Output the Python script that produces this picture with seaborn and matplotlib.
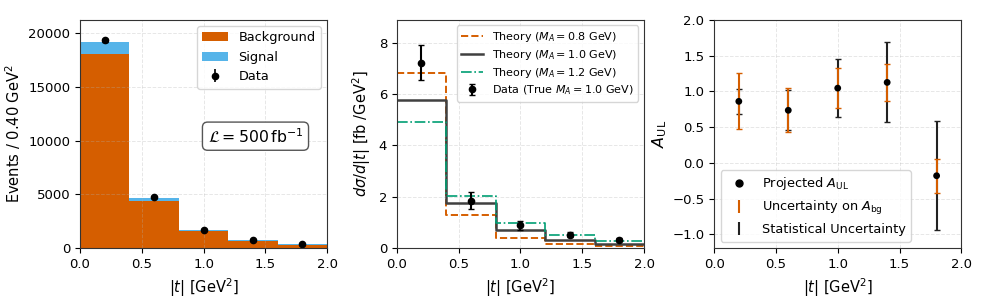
import numpy as np
import pandas as pd
import matplotlib
matplotlib.use("Agg")
import matplotlib.pyplot as plt
import seaborn as sns
from matplotlib.patches import Patch
from matplotlib.lines import Line2D

# ---------------- data ----------------
bin_edges = [0.0, 0.4, 0.8, 1.2, 1.6, 2.0]
bin_centers = [0.2, 0.6, 1.0, 1.4, 1.8]

background = [18050, 4370, 1560, 680, 310]
signal = [1110, 310, 140, 40, 25]
data_counts = [19350, 4710, 1700, 740, 340]

theory_08 = [6.82, 1.28, 0.40, 0.17, 0.07]
theory_10 = [5.78, 1.75, 0.69, 0.33, 0.15]
theory_12 = [4.91, 2.01, 0.97, 0.52, 0.28]
xsec_data = [7.23, 1.85, 0.89, 0.52, 0.33]
xsec_err = [0.69, 0.33, 0.18, 0.09, 0.06]

aul = [0.86, 0.735, 1.045, 1.125, -0.18]
aul_stat = [0.17, 0.28, 0.41, 0.56, 0.76]
aul_bg = [0.39, 0.31, 0.28, 0.26, 0.24]

# ---------------- style ----------------
C_BG = "#D55E00"
C_SIG = "#56B4E9"
C_GREEN = "#009E73"
C_DARK = "#404040"

plt.rcParams.update({
    "font.family": ["DejaVu Sans"],
    "xtick.labelsize": 9.5,
    "ytick.labelsize": 9.5,
    "axes.labelsize": 10.5,
    "legend.fontsize": 9.3,
    "axes.edgecolor": "#333333",
})

fig = plt.figure(figsize=(9.87, 3.05), dpi=100)
W, H = 0.2505, 0.748
B = 0.187
ax1 = fig.add_axes([0.081, B, W, H])
ax2 = fig.add_axes([0.402, B, W, H])
ax3 = fig.add_axes([0.7235, B, W, H])

for ax in (ax1, ax2, ax3):
    ax.grid(True, linestyle="--", alpha=0.3, linewidth=0.7)

# ---------------- panel 1 ----------------
total = np.array(background) + np.array(signal)
df1 = pd.DataFrame({"t": bin_centers, "total": total, "bg": background})
sns.histplot(data=df1, x="t", weights="total", bins=bin_edges, color=C_SIG,
             alpha=1, linewidth=0, ax=ax1)
sns.histplot(data=df1, x="t", weights="bg", bins=bin_edges, color=C_BG,
             alpha=1, linewidth=0, ax=ax1)
ax1.errorbar(bin_centers, data_counts, yerr=np.sqrt(data_counts), fmt="o",
             color="black", ms=4.5, capsize=2, lw=1.2)
ax1.set_xlim(0, 2)
ax1.set_ylim(0, 21250)
ax1.set_xticks([0.0, 0.5, 1.0, 1.5, 2.0])
ax1.set_yticks([0, 5000, 10000, 15000, 20000])
ax1.set_xlabel(r"$|t|$ [GeV$^2$]")
ax1.set_ylabel(r"Events / 0.40 GeV$^2$")
h_bg = Patch(facecolor=C_BG, label="Background")
h_sig = Patch(facecolor=C_SIG, label="Signal")
h_dat = ax1.errorbar([], [], yerr=[], fmt="o", color="black", ms=4.5, capsize=2,
                     lw=1.2, label="Data")
ax1.legend(handles=[h_bg, h_sig, h_dat], loc="upper right")
ax1.text(0.71, 0.49, r"$\mathcal{L} = 500\,\mathrm{fb}^{-1}$", transform=ax1.transAxes,
         ha="center", va="center", fontsize=11.3,
         bbox=dict(boxstyle="round,pad=0.33", facecolor="white", edgecolor="#555555"))

# ---------------- panel 2 ----------------
def step_df(vals):
    return pd.DataFrame({"x": bin_edges, "y": list(vals) + [vals[-1]]})

sns.lineplot(data=step_df(theory_08), x="x", y="y", drawstyle="steps-post",
             color=C_BG, linestyle="--", lw=1.4, ax=ax2,
             label=r"Theory ($M_A = 0.8$ GeV)")
sns.lineplot(data=step_df(theory_10), x="x", y="y", drawstyle="steps-post",
             color=C_DARK, linestyle="-", lw=1.8, ax=ax2,
             label=r"Theory ($M_A = 1.0$ GeV)")
sns.lineplot(data=step_df(theory_12), x="x", y="y", drawstyle="steps-post",
             color=C_GREEN, linestyle="-.", lw=1.2, ax=ax2,
             label=r"Theory ($M_A = 1.2$ GeV)")
ax2.errorbar(bin_centers, xsec_data, yerr=xsec_err, fmt="o", color="black",
             ms=4.5, capsize=2.5, lw=1.5, label=r"Data (True $M_A = 1.0$ GeV)")
ax2.set_xlim(0, 2)
ax2.set_ylim(0, 8.9)
ax2.set_xticks([0.0, 0.5, 1.0, 1.5, 2.0])
ax2.set_yticks([0, 2, 4, 6, 8])
ax2.set_xlabel(r"$|t|$ [GeV$^2$]")
ax2.set_ylabel(r"$d\sigma/d|t|$ [fb /GeV$^2$]")
ax2.legend(loc="upper right", fontsize=8, labelspacing=0.35)

# ---------------- panel 3 ----------------
ax3.errorbar(bin_centers, aul, yerr=aul_stat, fmt="none", ecolor="#222222",
             capsize=2.2, lw=1.5, zorder=2)
ax3.errorbar(bin_centers, aul, yerr=aul_bg, fmt="none", ecolor=C_BG,
             capsize=2.2, lw=1.5, zorder=3)
df3 = pd.DataFrame({"t": bin_centers, "a": aul})
sns.scatterplot(data=df3, x="t", y="a", color="black", s=24, edgecolor="none",
                zorder=4, ax=ax3)
ax3.set_xlim(0, 2)
ax3.set_ylim(-1.19, 2.0)
ax3.set_xticks([0.0, 0.5, 1.0, 1.5, 2.0])
ax3.set_yticks([-1.0, -0.5, 0.0, 0.5, 1.0, 1.5, 2.0])
ax3.set_xlabel(r"$|t|$ [GeV$^2$]")
ax3.set_ylabel(r"$A_{\mathrm{UL}}$", fontsize=11.5, labelpad=2)
h_p = Line2D([], [], marker="o", color="black", ls="none", ms=5,
             label=r"Projected $A_{\mathrm{UL}}$")
h_o = ax3.errorbar([], [], yerr=[], fmt="none", ecolor=C_BG, capsize=2.2, lw=1.5,
                   label=r"Uncertainty on $A_{\mathrm{bg}}$")
h_k = ax3.errorbar([], [], yerr=[], fmt="none", ecolor="#222222", capsize=2.2, lw=1.5,
                   label="Statistical Uncertainty")
ax3.legend(handles=[h_p, h_o, h_k], loc="lower left")

fig.savefig("out.png", dpi=100)
